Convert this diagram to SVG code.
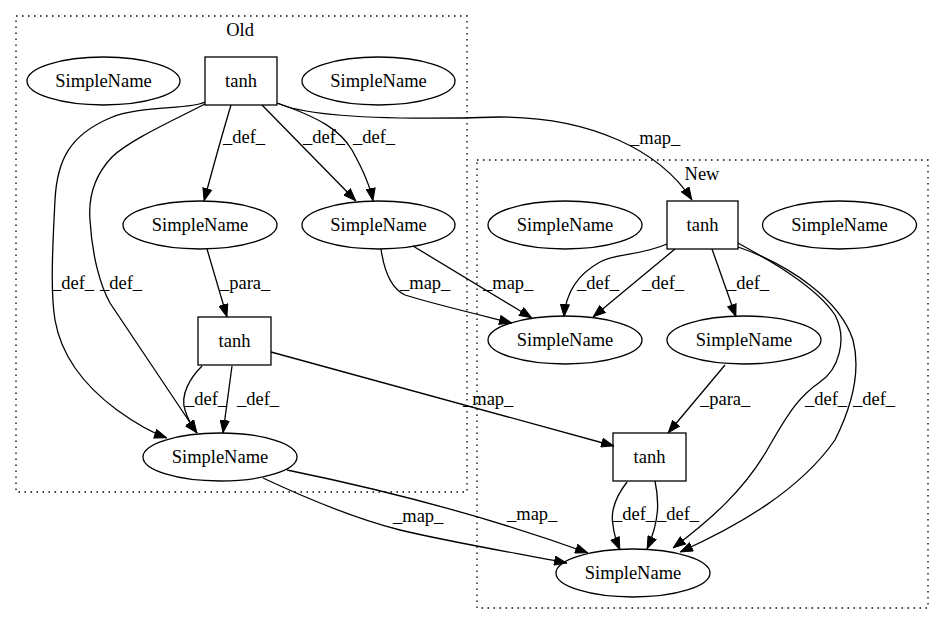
<svg xmlns="http://www.w3.org/2000/svg" width="944" height="624" viewBox="0 0 944 624">
<style>
text{font-family:"Liberation Serif","Times New Roman",serif;font-size:18.5px;fill:#000}
.n text{text-anchor:middle}
.n ellipse,.n rect{fill:none;stroke:#000;stroke-width:1.3}
.cl{fill:none;stroke:#000;stroke-width:1.3;stroke-dasharray:1.5,4.5}
.e path{fill:none;stroke:#000;stroke-width:1.3;marker-end:url(#ah)}
.lbl text{text-anchor:start}
</style>
<defs>
<marker id="ah" viewBox="0 0 13 10" refX="13" refY="5" markerWidth="13" markerHeight="10" markerUnits="userSpaceOnUse" orient="auto">
<path d="M0.5,0.5 L12.5,5 L0.5,9.5 z" fill="#000" stroke="#000" stroke-width="1"/>
</marker>
</defs>
<rect width="944" height="624" fill="#fff"/>
<g id="cluster_old"><rect class="cl" x="16" y="16" width="451" height="476"/><text x="240" y="36" text-anchor="middle">Old</text></g>
<g id="cluster_new"><rect class="cl" x="477" y="160" width="451" height="448"/><text x="702" y="180" text-anchor="middle">New</text></g>

<g id="edges" class="e">
<path d="M231,105 C225,125 211,175 204,201"/>
<path d="M262,105 L356,201"/>
<path d="M277,103 C320,118 340,130 352,150 C362,168 370,185 373,201"/>
<path d="M277,103 C310,118 400,120 500,117 C590,117 660,150 692,200"/>
<path d="M205,102 C190,110 140,105 110,118 C70,135 57,160 55,200 C53,240 50,290 55,320 C62,360 90,390 117,410 C135,423 150,432 167,438"/>
<path d="M205,104 C170,122 130,140 112,157 C95,175 88,195 90,220 C92,255 100,285 110,303 L197,433"/>
<path d="M207,249 L227,317"/>
<path d="M381,249 C384,270 390,288 405,295 C430,303 480,315 512,323"/>
<path d="M413,246 L532,318"/>
<path d="M202,366 C190,378 180,395 185,410 C188,420 193,428 197,433"/>
<path d="M232,366 L223,433"/>
<path d="M271,352 L614,446"/>
<path d="M287,470 C360,485 470,510 588,553"/>
<path d="M263,478 C310,500 360,520 400,530 C450,542 510,552 567,563"/>
<path d="M667,244 C640,256 615,253 600,262 C580,273 566,290 564,317"/>
<path d="M675,249 L593,317"/>
<path d="M712,249 L736,317"/>
<path d="M738,243 C765,258 815,285 835,315 C848,340 838,370 820,382 C800,396 790,410 770,445 C745,490 710,520 673,548"/>
<path d="M738,247 C790,265 840,300 853,340 C862,375 850,410 835,440 C800,490 740,525 680,552"/>
<path d="M725,365 L668,433"/>
<path d="M627,482 C617,495 610,510 613,525 C614,535 617,543 620,550"/>
<path d="M655,481 C659,500 660,520 647,549"/>
</g>

<g id="edge_labels" class="lbl">
<text x="223" y="143">_def_</text>
<text x="303" y="143">_def_</text>
<text x="353" y="143">_def_</text>
<text x="630" y="144">_map_</text>
<text x="52" y="289">_def_</text>
<text x="100" y="289">_def_</text>
<text x="220" y="289">_para_</text>
<text x="400" y="289">_map_</text>
<text x="483" y="289">_map_</text>
<text x="577" y="289">_def_</text>
<text x="642" y="289">_def_</text>
<text x="727" y="289">_def_</text>
<text x="185" y="405">_def_</text>
<text x="237" y="405">_def_</text>
<text x="463" y="405">_map_</text>
<text x="700" y="405">_para_</text>
<text x="805" y="405">_def_</text>
<text x="853" y="405">_def_</text>
<text x="393" y="522">_map_</text>
<text x="507" y="520">_map_</text>
<text x="613" y="520">_def_</text>
<text x="657" y="520">_def_</text>
</g>

<g id="old_sn1" class="n"><ellipse cx="103.5" cy="81" rx="76.5" ry="24"/><text x="103.5" y="87">SimpleName</text></g>
<g id="old_tanh1" class="n"><rect x="205" y="57" width="72" height="48"/><text x="241" y="87">tanh</text></g>
<g id="old_sn2" class="n"><ellipse cx="378.5" cy="81" rx="76.5" ry="24"/><text x="378.5" y="87">SimpleName</text></g>
<g id="old_sn3" class="n"><ellipse cx="200" cy="225" rx="77" ry="24"/><text x="200" y="231">SimpleName</text></g>
<g id="old_sn4" class="n"><ellipse cx="378.5" cy="225" rx="76.5" ry="24"/><text x="378.5" y="231">SimpleName</text></g>
<g id="old_tanh2" class="n"><rect x="198" y="317" width="73" height="48"/><text x="234.5" y="347">tanh</text></g>
<g id="old_sn5" class="n"><ellipse cx="220" cy="457" rx="77" ry="24"/><text x="220" y="463">SimpleName</text></g>

<g id="new_sn1" class="n"><ellipse cx="565" cy="225" rx="77" ry="24"/><text x="565" y="231">SimpleName</text></g>
<g id="new_tanh1" class="n"><rect x="667" y="201" width="71" height="48"/><text x="702.5" y="231">tanh</text></g>
<g id="new_sn2" class="n"><ellipse cx="839.5" cy="225" rx="77" ry="24"/><text x="839.5" y="231">SimpleName</text></g>
<g id="new_sn3" class="n"><ellipse cx="565" cy="340" rx="77" ry="24"/><text x="565" y="346">SimpleName</text></g>
<g id="new_sn4" class="n"><ellipse cx="744" cy="340" rx="77" ry="24"/><text x="744" y="346">SimpleName</text></g>
<g id="new_tanh2" class="n"><rect x="613" y="433" width="73" height="48"/><text x="649.5" y="463">tanh</text></g>
<g id="new_sn5" class="n"><ellipse cx="633" cy="573" rx="77" ry="24"/><text x="633" y="579">SimpleName</text></g>
</svg>
